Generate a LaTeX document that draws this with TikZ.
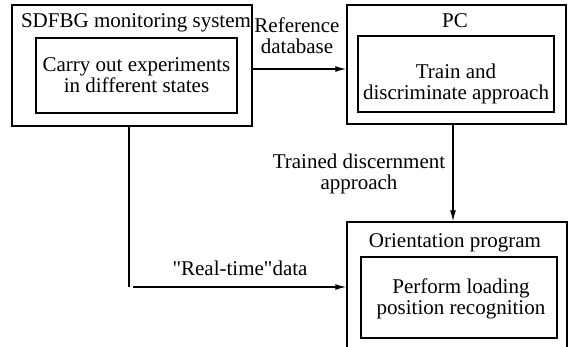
\documentclass[tikz,border=0pt]{standalone}
\usepackage{fontspec}
\setmainfont{Liberation Serif}[Ligatures=TeX]
\newfontfamily\figfont{Liberation Serif}
\usetikzlibrary{arrows.meta}

\begin{document}
\begin{tikzpicture}[x=1pt,y=-1pt,
  every node/.style={font=\figfont\fontsize{21}{21}\selectfont, inner sep=0pt},
  outerbox/.style={draw, line width=1.5pt},
  innerbox/.style={draw, line width=1.4pt},
  lbl/.style={align=center},
  flow/.style={line width=1.3pt, -{Latex[length=11pt,width=6pt]}}]
\clip (0,0) rectangle (578,346);

% boxes
\node[outerbox, minimum width=240pt, minimum height=121pt] (sdfbg) at (132,65.5) {};
\node[innerbox, minimum width=201pt, minimum height=75pt] (expbox) at (136.5,75.5) {};
\node[outerbox, minimum width=219pt, minimum height=119pt] (pc) at (456.5,64.5) {};
\node[innerbox, minimum width=196pt, minimum height=76pt] (trainbox) at (456,74) {};
\node[outerbox, minimum width=220pt, minimum height=138pt] (orient) at (457,291) {};
\node[innerbox, minimum width=196pt, minimum height=81pt] (perfbox) at (459,297.5) {};

% titles and texts
\node[anchor=base] (sdfbgtitle) at (136,27) {SDFBG monitoring system};
\node[anchor=base] (pctitle) at (455,27) {PC};
\node[anchor=base] (orienttitle) at (455,247) {Orientation program};
\node[lbl] (exptext) at (136.5,75) {Carry out experiments\\in different states};
\node[lbl] (traintext) at (456,84) {Train and\\discriminate approach};
\node[lbl] (perftext) at (461,299) {Perform loading\\position recognition};

% connectors
\draw[flow] (sdfbg.east |- 0,69) -- (pc.west |- 0,69);
\draw[flow] ([xshift=-3.5pt]pc.south) -- ([xshift=-4pt]orient.north);
\coordinate (bend) at (129,287);
\draw[line width=1.4pt] (sdfbg.south -| bend) -- (bend);
\draw[flow] ([xshift=4pt]bend) -- (orient.west |- bend);

\node[lbl] (reflbl) at (297,35.5) {Reference\\database};
\node[lbl] (trainedlbl) at (359,174) {Trained discernment\\approach};
\node[anchor=base] (rtlbl) at (240,275) {\textquotedbl Real-time\textquotedbl data};
\end{tikzpicture}
\end{document}
